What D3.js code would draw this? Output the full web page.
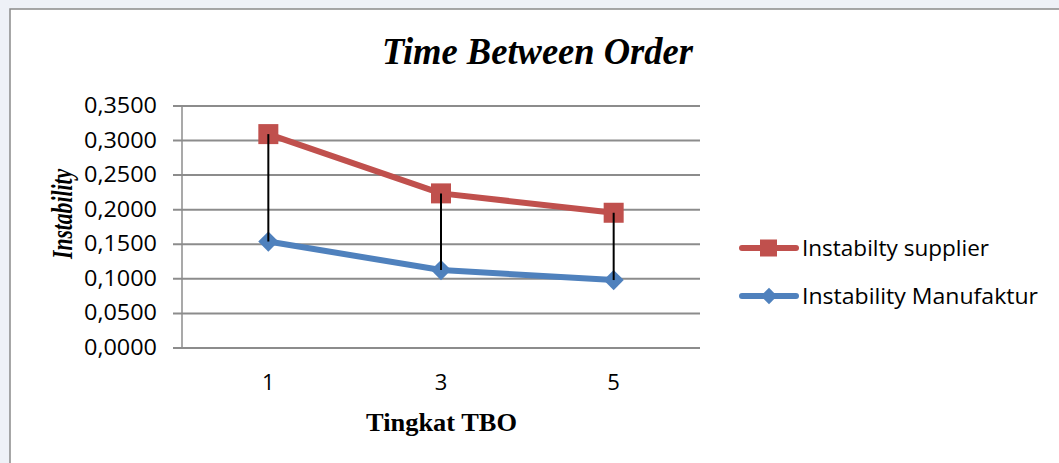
<!DOCTYPE html>
<html>
<head>
<meta charset="utf-8">
<script src="https://cdn.jsdelivr.net/npm/d3@7"></script>
<style>
  html, body { margin: 0; padding: 0; background: #eef1f7; }
  svg { display: block; }
</style>
</head>
<body>
<svg id="chart" width="1059" height="463"></svg>
<script>
// ---- data ----
const categories = ["1", "3", "5"];
const supplierValues = [0.3085, 0.2228, 0.1948];
const manufakturValues = [0.1532, 0.1120, 0.0975];
const seriesNames = ["Instabilty supplier", "Instability Manufaktur"];
const yTickValues = [0, 0.05, 0.10, 0.15, 0.20, 0.25, 0.30, 0.35];
const titleText = "Time Between Order";
const xTitleText = "Tingkat TBO";
const yTitleText = "Instability";

const red = "#c0504d", blue = "#4f81bd";
const svg = d3.select("#chart");

// chart area
svg.append("rect").attr("x", 10).attr("y", 9).attr("width", 1070).attr("height", 470)
  .attr("fill", "#ffffff").attr("stroke", "#8a8a8a").attr("stroke-width", 1.5);

const x = d3.scaleBand().domain(categories).range([182, 700]).padding(0);
const y = d3.scaleLinear().domain([0, 0.35]).range([347.5, 105.4]);
const cx = c => x(c) + x.bandwidth() / 2;

// gridlines + y axis
const fmt = d => d3.format(".4f")(d).replace(".", ",");
const yAxis = d3.axisLeft(y).tickValues(yTickValues).tickFormat(fmt)
  .tickSize(-(700 - 173)).tickPadding(16);
const gy = svg.append("g").attr("transform", "translate(173,0)").call(yAxis);
gy.select(".domain").remove();
gy.selectAll(".tick line").attr("stroke", "#8c8c8c").attr("stroke-width", 2);
gy.selectAll(".tick text").attr("font-family", "'Open Sans', sans-serif")
  .attr("font-size", 22).attr("fill", "#000").attr("x", -16)
  .attr("textLength", 73).attr("lengthAdjust", "spacingAndGlyphs");

// vertical axis line
svg.append("line").attr("x1", 182).attr("x2", 182).attr("y1", y(0.35)).attr("y2", y(0))
  .attr("stroke", "#8c8c8c").attr("stroke-width", 1.5);

// x axis labels
const xAxis = d3.axisBottom(x).tickSize(0).tickPadding(0);
const gx = svg.append("g").attr("transform", "translate(0,347.5)").call(xAxis);
gx.select(".domain").remove();
gx.selectAll(".tick text").attr("font-family", "'Open Sans', sans-serif")
  .attr("font-size", 22).attr("fill", "#000").attr("dy", 0).attr("y", 42);

// lines
const line = d3.line().x((d, i) => cx(categories[i])).y(d => y(d));
svg.append("path").datum(supplierValues).attr("d", line).attr("fill", "none")
  .attr("stroke", red).attr("stroke-width", 6).attr("stroke-linejoin", "round");
svg.append("path").datum(manufakturValues).attr("d", line).attr("fill", "none")
  .attr("stroke", blue).attr("stroke-width", 6).attr("stroke-linejoin", "round");

// markers
svg.selectAll(".sq").data(supplierValues).enter().append("rect")
  .attr("x", (d, i) => cx(categories[i]) - 10).attr("y", d => y(d) - 10)
  .attr("width", 20).attr("height", 20).attr("fill", red);
const diamond = d3.symbol().type(d3.symbolDiamond2).size(260);
svg.selectAll(".dm").data(manufakturValues).enter().append("path")
  .attr("d", diamond).attr("fill", blue)
  .attr("transform", (d, i) => `translate(${cx(categories[i])},${y(d)})`);

// high-low lines
svg.selectAll(".hl").data(categories).enter().append("line")
  .attr("x1", c => cx(c)).attr("x2", c => cx(c))
  .attr("y1", (c, i) => y(supplierValues[i])).attr("y2", (c, i) => y(manufakturValues[i]))
  .attr("stroke", "#000").attr("stroke-width", 2);

// title
svg.append("text").attr("x", 537.5).attr("y", 64).attr("text-anchor", "middle")
  .attr("font-family", "'Liberation Serif', 'Times New Roman', serif")
  .attr("font-weight", "bold").attr("font-style", "italic").attr("font-size", 38)
  .attr("textLength", 311).attr("lengthAdjust", "spacingAndGlyphs").text(titleText);

// x title
svg.append("text").attr("x", 441.5).attr("y", 431).attr("text-anchor", "middle")
  .attr("font-family", "'Liberation Serif', 'Times New Roman', serif")
  .attr("font-weight", "bold").attr("font-size", 26)
  .attr("textLength", 151).attr("lengthAdjust", "spacingAndGlyphs").text(xTitleText);

// y title
svg.append("text").attr("transform", "translate(72,214) rotate(-90)").attr("text-anchor", "middle")
  .attr("font-family", "'Liberation Serif', 'Times New Roman', serif")
  .attr("font-weight", "bold").attr("font-style", "italic").attr("font-size", 29)
  .attr("textLength", 90).attr("lengthAdjust", "spacingAndGlyphs").text(yTitleText);

// legend
const legend = [
  { name: seriesNames[0], color: red, type: "square", y: 248, base: 256, w: 187 },
  { name: seriesNames[1], color: blue, type: "diamond", y: 296, base: 304, w: 236 }
];
const lg = svg.selectAll(".lg").data(legend).enter().append("g");
lg.append("line").attr("x1", 742).attr("x2", 796).attr("y1", d => d.y).attr("y2", d => d.y)
  .attr("stroke", d => d.color).attr("stroke-width", 6).attr("stroke-linecap", "round");
lg.filter(d => d.type === "square").append("rect")
  .attr("x", 760).attr("y", d => d.y - 8.5).attr("width", 17).attr("height", 17).attr("fill", d => d.color);
lg.filter(d => d.type === "diamond").append("path")
  .attr("d", d3.symbol().type(d3.symbolDiamond2).size(170)).attr("fill", d => d.color)
  .attr("transform", d => `translate(769,${d.y})`);
lg.append("text").attr("x", 802).attr("y", d => d.base)
  .attr("font-family", "'Open Sans', sans-serif").attr("font-size", 21).attr("fill", "#000")
  .attr("textLength", d => d.w).attr("lengthAdjust", "spacingAndGlyphs").text(d => d.name);
</script>
</body>
</html>
